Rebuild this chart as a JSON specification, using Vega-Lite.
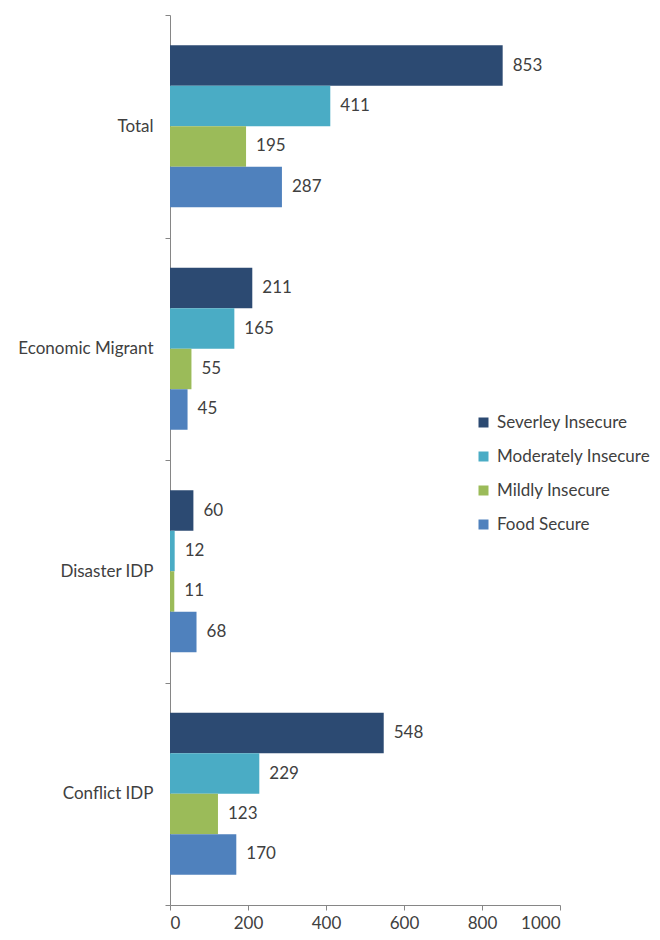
{
  "$schema": "https://vega.github.io/schema/vega-lite/v6.json",
  "width": 390,
  "height": 890,
  "autosize": "none",
  "padding": {"left": 170, "top": 15, "right": 100, "bottom": 35},
  "background": "white",
  "config": {
    "font": "Lato",
    "view": {"stroke": null},
    "text": {"font": "Lato"}
  },
  "data": {
    "values": [
      {"group": "Total", "status": "Severley Insecure", "value": 853},
      {"group": "Total", "status": "Moderately Insecure", "value": 411},
      {"group": "Total", "status": "Mildly Insecure", "value": 195},
      {"group": "Total", "status": "Food Secure", "value": 287},
      {"group": "Economic Migrant", "status": "Severley Insecure", "value": 211},
      {"group": "Economic Migrant", "status": "Moderately Insecure", "value": 165},
      {"group": "Economic Migrant", "status": "Mildly Insecure", "value": 55},
      {"group": "Economic Migrant", "status": "Food Secure", "value": 45},
      {"group": "Disaster IDP", "status": "Severley Insecure", "value": 60},
      {"group": "Disaster IDP", "status": "Moderately Insecure", "value": 12},
      {"group": "Disaster IDP", "status": "Mildly Insecure", "value": 11},
      {"group": "Disaster IDP", "status": "Food Secure", "value": 68},
      {"group": "Conflict IDP", "status": "Severley Insecure", "value": 548},
      {"group": "Conflict IDP", "status": "Moderately Insecure", "value": 229},
      {"group": "Conflict IDP", "status": "Mildly Insecure", "value": 123},
      {"group": "Conflict IDP", "status": "Food Secure", "value": 170}
    ]
  },
  "encoding": {
    "y": {
      "field": "group",
      "type": "nominal",
      "sort": ["Total", "Economic Migrant", "Disaster IDP", "Conflict IDP"],
      "scale": {"paddingInner": 0, "paddingOuter": 0},
      "axis": {
        "title": null,
        "tickBand": "extent",
        "tickSize": 5,
        "tickColor": "#868686",
        "domainColor": "#868686",
        "labelFontSize": 17,
        "labelColor": "#404040",
        "labelPadding": 12,
        "labelFont": "Lato"
      }
    },
    "yOffset": {
      "field": "status",
      "sort": ["Severley Insecure", "Moderately Insecure", "Mildly Insecure", "Food Secure"],
      "scale": {"paddingInner": 0, "paddingOuter": 0.747}
    },
    "x": {
      "field": "value",
      "type": "quantitative",
      "scale": {"domain": [0, 1000]},
      "axis": {
        "title": null,
        "grid": false,
        "values": [0, 200, 400, 600, 800, 1000],
        "format": "d",
        "tickSize": 5,
        "tickColor": "#868686",
        "domainColor": "#868686",
        "labelFontSize": 17,
        "labelColor": "#404040",
        "labelPadding": 5,
        "labelFont": "Lato"
      }
    }
  },
  "layer": [
    {
      "mark": {"type": "bar"},
      "encoding": {
        "color": {
          "field": "status",
          "type": "nominal",
          "sort": ["Severley Insecure", "Moderately Insecure", "Mildly Insecure", "Food Secure"],
          "scale": {
            "domain": ["Severley Insecure", "Moderately Insecure", "Mildly Insecure", "Food Secure"],
            "range": ["#2C4A72", "#4AACC5", "#9BBB59", "#4F81BD"]
          },
          "legend": {
            "title": null,
            "orient": "none",
            "legendX": 305,
            "legendY": 399,
            "symbolType": "square",
            "symbolSize": 100,
            "symbolStrokeWidth": 0,
            "labelFontSize": 17,
            "labelColor": "#404040",
            "labelFont": "Lato",
            "labelOffset": 5,
            "rowPadding": 16
          }
        }
      }
    },
    {
      "mark": {"type": "text", "align": "left", "baseline": "middle", "dx": 10, "fontSize": 17, "color": "#404040"},
      "encoding": {"text": {"field": "value", "type": "quantitative"}}
    }
  ]
}
